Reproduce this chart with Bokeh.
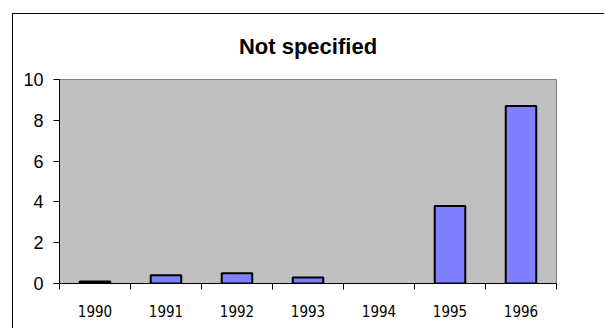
from bokeh.plotting import figure
from bokeh.models import Range1d, FixedTicker, LinearAxis
from bokeh.embed import file_html
from bokeh.resources import INLINE

# Counts per year for the "Not specified" group
years = ["1990", "1991", "1992", "1993", "1994", "1995", "1996"]
counts = [0.1, 0.4, 0.5, 0.3, 0.0, 3.8, 8.7]
y_ticks = [0, 2, 4, 6, 8, 10]

n = len(years)
centers = [i + 0.5 for i in range(n)]

p = figure(
    width=592, height=315,
    output_backend="svg", toolbar_location=None,
    x_range=Range1d(0, n), y_range=Range1d(0, 10),
    x_axis_type=None,
    min_border_left=46, min_border_right=49,
    min_border_top=65, min_border_bottom=46,
    margin=(13, 0, 0, 12),
)
p.styles = {"border-top": "1px solid #000", "border-left": "1px solid #000"}

p.title.text = "Not specified"
p.title.text_font = "Liberation Sans"
p.title.text_font_style = "bold"
p.title.text_font_size = "22px"
p.title.align = "center"
p.title.vertical_align = "top"
p.title.offset = 9
p.title.standoff = 37
p.title.text_color = "#000000"

p.background_fill_color = "#c0c0c0"
p.border_fill_color = "#ffffff"
p.outline_line_color = "#808080"
p.outline_line_width = 1
p.xgrid.visible = False
p.ygrid.visible = False

# years with no entries get no bar at all
bar_x = [c for c, v in zip(centers, counts) if v > 0]
bar_top = [v for v in counts if v > 0]
p.vbar(x=bar_x, top=bar_top, width=0.43, bottom=0,
       fill_color="#8080ff", line_color="#000000", line_width=2)

# value axis
ya = p.yaxis[0]
ya.ticker = FixedTicker(ticks=y_ticks)
ya.minor_tick_line_color = None
ya.major_tick_in = 0
ya.major_tick_out = 6
ya.major_tick_line_color = "#000000"
ya.axis_line_color = "#000000"
ya.major_label_text_font = "Liberation Sans"
ya.major_label_text_font_size = "18px"
ya.major_label_text_color = "#000000"
ya.major_label_standoff = 10

# category axis: labels at bar centres, tick marks between categories
xa = LinearAxis(
    ticker=FixedTicker(ticks=centers, minor_ticks=list(range(n + 1))),
    major_label_overrides={c: y for c, y in zip(centers, years)},
)
xa.major_tick_line_color = None
xa.major_tick_out = 0
xa.major_tick_in = 0
xa.minor_tick_out = 6
xa.minor_tick_in = 0
xa.minor_tick_line_color = "#000000"
xa.axis_line_color = "#000000"
xa.major_label_text_font = "DejaVu Sans Condensed"
xa.major_label_text_font_size = "15px"
xa.major_label_text_color = "#000000"
xa.major_label_standoff = 15
p.add_layout(xa, "below")

open("out.html", "w").write(file_html(p, INLINE))
